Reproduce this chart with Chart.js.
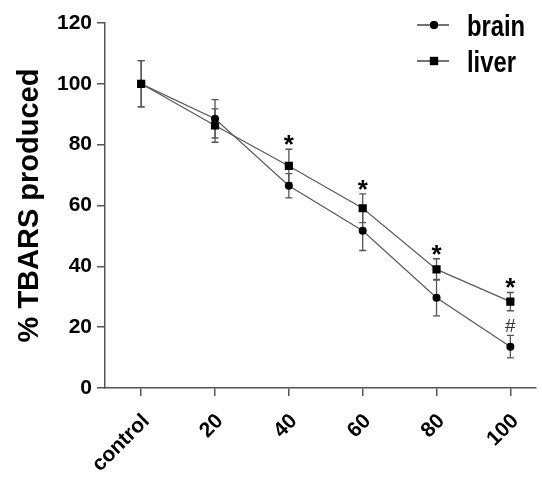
<!DOCTYPE html>
<html>
<head>
<meta charset="utf-8">
<script src="https://cdn.jsdelivr.net/npm/chart.js@4"></script>
<style>
  html, body { margin: 0; padding: 0; background: #fff; }
  canvas { display: block; }
</style>
</head>
<body>
<canvas id="chart" width="542" height="483"></canvas>
<script>
var categories = ["control", "20", "40", "60", "80", "100"];
var brain = [100, 88.5, 66.5, 51.7, 29.7, 13.6];
var brainErr = [7.6, 6.3, 4, 6.5, 6, 3.7];
var liver = [100, 86.3, 73, 59.1, 39, 28.4];
var liverErr = [7.6, 5.5, 5.5, 4.7, 3.5, 3];
var brainMarks = ["", "", "", "", "", "#"];
var liverMarks = ["", "", "*", "*", "*", "*"];
var yTicks = [0, 20, 40, 60, 80, 100, 120];

const toPoints = (vals) => vals.map((v, i) => ({x: i, y: v}));

const axisColor = "#555";
const lineColor = "#5a5a5a";

// error bars, significance marks and the legend
const extras = {
  id: "extras",
  beforeDatasetsDraw(chart) {
    const ctx = chart.ctx;
    const xs = chart.scales.x, ys = chart.scales.y;
    const sets = [[brain, brainErr], [liver, liverErr]];
    ctx.save();
    ctx.strokeStyle = "#555";
    ctx.lineWidth = 1.3;
    sets.forEach(([vals, errs]) => {
      vals.forEach((v, i) => {
        const x = xs.getPixelForValue(i);
        const top = ys.getPixelForValue(v + errs[i]);
        const bot = ys.getPixelForValue(v - errs[i]);
        ctx.beginPath();
        ctx.moveTo(x, top); ctx.lineTo(x, bot);
        ctx.moveTo(x - 3.5, top); ctx.lineTo(x + 3.5, top);
        ctx.moveTo(x - 3.5, bot); ctx.lineTo(x + 3.5, bot);
        ctx.stroke();
      });
    });
    ctx.restore();
  },
  afterDatasetsDraw(chart) {
    const ctx = chart.ctx;
    const xs = chart.scales.x, ys = chart.scales.y;
    ctx.save();
    ctx.fillStyle = "#000";
    ctx.textAlign = "center";
    ctx.textBaseline = "alphabetic";
    ctx.font = "bold 26px 'Liberation Sans', Arial, sans-serif";
    liverMarks.forEach((m, i) => {
      if (!m) return;
      const x = xs.getPixelForValue(i);
      const top = ys.getPixelForValue(liver[i] + liverErr[i]);
      ctx.fillText(m, x, top + 4);
    });
    ctx.fillStyle = "#333";
    ctx.font = "19px 'Liberation Sans', Arial, sans-serif";
    brainMarks.forEach((m, i) => {
      if (!m) return;
      const x = xs.getPixelForValue(i);
      const top = ys.getPixelForValue(brain[i] + brainErr[i]);
      ctx.fillText(m, x, top - 3);
    });

    // legend
    const items = [
      {label: "brain", style: "circle", r: 4, y: 25},
      {label: "liver", style: "rect", r: 5.8, y: 61}
    ];
    items.forEach(it => {
      ctx.strokeStyle = "#444";
      ctx.lineWidth = 1.5;
      ctx.beginPath();
      ctx.moveTo(417, it.y); ctx.lineTo(449, it.y);
      ctx.stroke();
      ctx.fillStyle = "#000";
      Chart.helpers.drawPoint(ctx, {pointStyle: it.style, radius: it.r, borderWidth: 0}, 434, it.y);
      ctx.fill();
      ctx.save();
      ctx.translate(467, it.y + 11);
      ctx.scale(0.82, 1);
      ctx.textAlign = "left";
      ctx.font = "bold 29px 'Liberation Sans', Arial, sans-serif";
      ctx.fillText(it.label, 0, 0);
      ctx.restore();
    });
    ctx.restore();
  }
};

new Chart("chart", {
  type: "line",
  data: {
    datasets: [
      {
        label: "brain",
        data: toPoints(brain),
        borderColor: lineColor,
        borderWidth: 1.2,
        backgroundColor: "#000",
        pointStyle: "circle",
        pointRadius: 4,
        pointBorderWidth: 0,
        pointBackgroundColor: "#000",
        lineTension: 0,
        fill: false
      },
      {
        label: "liver",
        data: toPoints(liver),
        borderColor: lineColor,
        borderWidth: 1.2,
        backgroundColor: "#000",
        pointStyle: "rect",
        pointRadius: 5.8,
        pointBorderWidth: 0,
        pointBackgroundColor: "#000",
        lineTension: 0,
        fill: false
      }
    ]
  },
  options: {
    responsive: false,
    animation: false,
    devicePixelRatio: 1,
    layout: {padding: {top: 23, right: 1, left: 0, bottom: 0}},
    plugins: {
      legend: {display: false},
      tooltip: {enabled: false}
    },
    scales: {
      x: {
        type: "linear",
        min: -0.49,
        max: 5.35,
        afterBuildTicks: (scale) => {
          scale.ticks = categories.map((c, i) => ({value: i}));
        },
        afterFit: (scale) => { scale.height = 95; },
        border: {display: true, color: axisColor, width: 1.5},
        grid: {display: true, drawOnChartArea: false, drawTicks: true, tickLength: 8, color: axisColor, lineWidth: 1.5},
        ticks: {
          autoSkip: false,
          minRotation: 45,
          maxRotation: 45,
          padding: 13,
          labelOffset: 5,
          color: "#000",
          font: {family: "'Liberation Sans', Arial, sans-serif", size: 21, weight: "bold"},
          callback: (v) => categories[v]
        }
      },
      y: {
        min: 0,
        max: 120,
        afterBuildTicks: (scale) => {
          scale.ticks = yTicks.map(v => ({value: v}));
        },
        afterFit: (scale) => { scale.width = 105; },
        border: {display: true, color: axisColor, width: 1.5},
        grid: {display: true, drawOnChartArea: false, drawTicks: true, tickLength: 8, color: axisColor, lineWidth: 1.5},
        ticks: {
          color: "#000",
          padding: 5,
          font: {family: "'Liberation Sans', Arial, sans-serif", size: 21, weight: "bold"}
        },
        title: {
          display: true,
          text: "% TBARS produced",
          color: "#000",
          padding: {top: 13, bottom: 0},
          font: {family: "'Liberation Sans', Arial, sans-serif", size: 29, weight: "bold"}
        }
      }
    }
  },
  plugins: [extras]
});
</script>
</body>
</html>
